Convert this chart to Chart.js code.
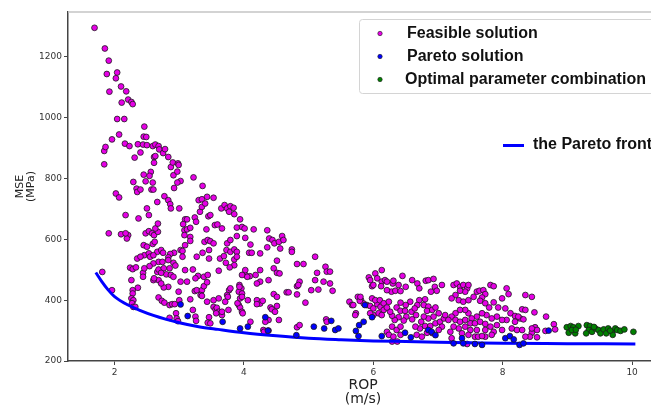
<!DOCTYPE html>
<html>
<head>
<meta charset="utf-8">
<script src="https://cdn.jsdelivr.net/npm/chart.js@4/dist/chart.umd.min.js"></script>
<style>
html, body { margin: 0; padding: 0; background: #fff; overflow: hidden; }
#wrap { width: 680px; height: 407px; }
</style>
</head>
<body>
<div id="wrap"><canvas id="chart" width="680" height="407"></canvas></div>
<script>
'use strict'

// values: [ROP (m/s), MSE (MPa)]
const feasible = [
    // upper tail
    [1.69,1296],[1.85,1228],[1.91,1188],[1.88,1144],[2.04,1149],[2.02,1130],[1.92,1086],[2.10,1103],[2.18,1087],[2.11,1050],
    [2.21,1060],[2.26,1052],[2.28,1045],[2.04,996],[2.15,996],[2.46,971],[2.07,945],[1.96,929],[2.45,938],[2.49,937],
    [1.84,891],[1.86,904],[1.84,847],[2.16,915],[2.23,907],[2.36,913],[2.31,869],[2.40,886],[2.44,912],[2.50,910],
    [2.59,907],[2.63,912],[2.68,907],[2.61,871],[2.63,874],[2.61,852],[2.69,896],[2.75,884],[2.78,897],[2.83,871],
    [2.87,838],[2.90,853],[2.98,850],[2.99,845],[2.91,811],[2.97,823],[3.02,792],[2.97,787],[2.92,769],[3.22,804],
    [3.36,776],[2.45,813],[2.56,822],[2.54,809],[2.48,791],[2.59,787],[2.29,789],[2.34,767],[2.35,756],[2.40,764],
    [2.57,764],[2.60,764],[2.02,751],[2.07,738],[3.30,729],[3.35,732],[3.43,740],[3.53,737],
    // left cloud
    [2.50,702],[2.66,723],[2.77,742],[2.83,729],[2.86,716],[2.87,702],[3.00,702],[3.09,666],[3.12,666],[3.24,672],
    [3.06,650],[3.08,630],[3.12,633],[3.17,638],[3.08,614],[3.17,608],[3.26,658],[3.32,691],[3.35,707],[3.40,718],
    [3.45,676],[3.48,680],[3.42,633],[3.39,592],[3.44,598],[3.48,594],[3.53,587],[3.55,647],[3.59,649],[3.65,702],
    [3.70,713],[3.74,702],[3.79,709],[3.84,704],[3.77,691],[3.85,683],[3.66,636],[3.74,587],[3.79,598],[3.73,565],
    [3.79,559],[3.85,567],[3.85,534],[3.85,515],[3.63,537],[3.69,545],[3.72,523],[3.78,508],[3.61,497],[3.27,543],
    [3.46,565],[3.36,556],[3.46,537],[3.09,581],[3.17,595],[3.02,565],[3.05,562],[3.05,543],[2.92,556],[2.86,552],
    [2.91,523],[2.83,541],[2.85,505],[2.80,485],[2.87,483],[2.91,477],[2.94,514],[3.09,499],[3.21,501],[3.29,480],
    [3.25,472],[3.38,477],[3.44,483],[3.12,461],[3.02,461],[2.83,444],[2.76,442],[2.68,466],[2.72,455],[2.66,493],
    [2.68,501],[2.76,505],[2.72,490],[2.68,526],[2.74,526],[2.83,532],[2.66,559],[2.72,565],[2.75,556],[2.60,521],
    [2.54,512],[2.46,548],[2.53,554],[2.55,543],[2.60,548],[2.45,581],[2.50,576],[2.59,585],[2.62,592],[2.48,620],
    [2.53,627],[2.58,620],[2.61,614],[2.67,625],[2.63,636],[2.67,652],[2.53,680],[2.37,669],[2.17,680],[2.10,617],
    [2.21,614],[2.19,603],[2.17,620],[1.91,620],[1.81,493],[1.96,433],[2.24,507],[2.28,502],[2.33,508],[2.26,466],
    [2.35,537],[2.40,543],[2.44,490],[2.46,505],[2.44,477],[2.60,466],[2.61,472],[2.36,441],[2.28,433],[2.28,422],
    [2.26,406],[2.29,400],[2.27,390],[2.29,378],[2.32,378],[2.68,409],[2.73,398],[2.77,392],[2.85,384],[2.89,387],
    [2.93,387],[2.95,357],[2.96,340],[2.85,342],[2.98,331],[3.00,400],[2.99,428],[3.17,403],[3.24,430],[3.27,433],
    [3.25,346],[3.26,332],[3.21,368],[3.35,433],[3.38,446],[3.43,459],[3.43,395],[3.33,417],[3.35,414],[3.46,344],
    [3.44,326],[3.48,324],[3.53,378],[3.56,370],[3.58,375],[3.61,362],[3.57,357],[3.53,400],[3.66,351],[3.66,362],
    [3.61,406],[3.77,433],[3.79,439],[3.74,417],[3.75,411],[3.71,395],[3.76,368],
    // middle
    [3.94,666],[3.89,639],[3.97,641],[4.01,636],[4.15,633],[4.36,630],[3.89,611],[4.02,605],[4.10,583],[4.39,603],
    [4.44,598],[4.47,587],[4.54,592],[4.59,611],[4.61,598],[4.36,574],[4.56,570],[4.74,567],
    [3.89,559],[3.89,543],[4.08,556],[4.12,556],[4.25,554],[4.74,559],[5.10,543],[4.82,519],[4.92,519],[5.26,510],
    [5.28,494],[5.33,494],[5.13,490],[5.10,466],[5.23,461],[5.33,455],[5.37,431],[5.15,435],[5.04,433],[4.82,446],
    [4.86,461],[4.84,450],[4.95,392],[4.82,419],[4.66,426],[4.69,426],[4.51,530],[4.46,505],[4.51,490],[4.55,488],
    [4.38,466],[4.25,499],[4.18,483],[4.25,461],[4.20,455],[4.09,479],[4.01,486],[4.05,477],[4.02,499],[3.97,483],
    [3.93,450],[3.96,439],[3.92,428],[3.97,422],[4.06,400],[3.92,384],[3.94,376],[3.97,362],[4.20,400],[4.25,389],
    [4.20,387],[4.29,398],[4.41,376],[4.43,370],[4.48,362],[4.51,381],[4.54,335],[4.38,335],[4.33,329],[4.10,329],
    [4.30,302],[4.38,300],[4.82,311],[4.86,318],[5.27,337],[5.28,329],[3.90,390],[3.98,357],[3.94,406],[3.97,411],
    [3.93,444],[4.46,420],[4.51,411],[4.31,296],
    // right cloud
    [5.63,395],[5.67,384],[5.73,357],[5.76,411],[5.81,400],[5.85,389],[5.69,384],[5.72,351],[5.79,398],[5.80,411],
    [5.93,475],[5.95,466],[6.03,488],[6.06,472],[6.13,461],[6.18,466],[6.12,446],[5.98,446],[6.00,450],[5.90,384],
    [5.95,381],[6.00,373],[6.06,387],[6.11,378],[6.16,368],[6.08,357],[6.13,351],[6.00,351],[5.95,357],[5.98,406],
    [6.03,400],[6.10,400],[6.16,390],[6.13,499],
    [6.45,480],[6.60,466],[6.68,455],[6.71,439],[6.81,464],[6.85,466],[6.93,470],[6.95,444],[7.06,450],[6.98,431],
    [6.89,428],[6.80,403],[6.71,400],[6.68,384],[6.57,395],[6.50,384],[6.42,392],[6.36,376],[6.42,365],[6.49,365],
    [6.59,362],[6.64,373],[6.66,351],[6.60,337],[6.51,346],[6.47,333],[6.39,344],[6.33,335],[6.29,349],[6.26,362],
    [6.21,376],[6.24,395],[6.28,428],[6.21,433],[6.34,431],[6.42,430],[6.50,444],[6.39,450],[6.30,455],[6.21,461],
    [6.31,464],[6.78,384],[6.85,379],[6.83,365],[6.91,368],[6.96,376],[7.01,357],[6.93,346],[6.85,340],[6.78,346],
    [6.74,329],[6.80,315],[6.88,315],[6.96,324],[7.03,329],[7.09,340],[7.11,351],[7.06,313],[7.01,302],[6.91,292],
    [6.83,293],[6.72,307],
    [7.24,450],[7.29,455],[7.34,444],[7.39,450],[7.45,439],[7.47,450],[7.42,428],[7.34,431],[7.27,417],[7.21,406],
    [7.32,400],[7.39,395],[7.47,400],[7.55,411],[7.60,428],[7.64,431],[7.70,433],[7.73,420],[7.81,450],[7.86,446],
    [7.68,409],[7.65,398],[7.73,390],[7.79,376],[7.86,393],[7.93,376],[7.99,406],[8.06,439],[8.09,420],[8.04,373],
    [8.12,357],[8.19,348],[8.27,340],[8.19,329],[8.06,335],[7.99,335],[7.91,346],[7.83,340],[7.75,351],[7.68,357],
    [7.60,346],[7.52,340],[7.47,357],[7.42,368],[7.34,368],[7.27,357],[7.21,346],[7.16,335],[7.27,335],[7.34,329],
    [7.42,335],[7.50,324],[7.57,324],[7.65,329],[7.73,322],[7.81,313],[7.91,318],[7.99,302],[7.86,296],[7.73,302],
    [7.60,302],[7.50,302],[7.42,313],[7.32,307],[7.24,313],[7.19,296],[7.37,291],[7.47,286],[7.57,280],[7.73,280],
    [7.83,286],[8.14,307],[8.22,302],[8.30,302],[8.30,370],[8.24,346],
    [6.29,264],[6.37,264],[7.21,275],[7.45,256],[7.62,280],[7.68,282],[6.21,296],[6.29,313],[6.36,302],[6.42,313],
    [6.24,286],[6.31,280],[6.42,286],[6.65,313],[6.67,286],[6.75,280],
    [8.35,417],[8.45,411],[8.35,368],[8.49,360],[8.32,337],[8.67,346],[8.79,321],[8.81,304],[8.50,311],[8.53,302],
    [8.45,293],[8.42,280],[8.53,278],[8.35,280],[8.45,307],[8.66,299]
]

const pareto = [
    [3.02,386],[3.13,348],[3.67,329],[3.94,307],[4.06,313],[4.33,344],[4.37,300],[4.81,285],[5.08,313],[5.24,307],
    [5.35,332],[5.41,302],[5.46,307],[5.73,299],[5.77,282],[5.78,318],[5.85,329],[5.87,384],[5.98,344],[6.13,282],
    [6.49,293],[6.58,278],[6.85,302],[6.90,296],[6.96,285],[7.24,258],[7.37,275],[7.39,258],[7.57,256],[7.68,253],
    [8.04,275],[8.11,282],[8.17,271],[8.26,253],[8.32,258],[8.71,300]
]

const optimal = [
    [8.99,311],[9.05,315],[9.09,311],[9.17,315],[9.02,293],[9.12,291],[9.07,302],[9.30,318],[9.35,315],[9.33,302],
    [9.29,291],[9.38,296],[9.43,307],[9.48,302],[9.51,291],[9.56,304],[9.60,291],[9.63,307],[9.69,296],[9.70,286],
    [9.74,307],[9.77,302],[9.82,299],[9.88,304],[10.02,296],[9.13,303],[9.41,312],[9.66,300]
]

const frontRop = [1.71, 1.8, 1.9, 2.0, 2.2, 2.4, 2.6, 2.8, 3.0, 3.3, 3.6, 4.0, 4.5, 5.0, 5.5, 6.0, 6.5, 7.0, 7.5, 8.0, 9.0, 10.05]
const frontMse = [491, 462, 434, 412, 385, 366, 350, 337, 326, 313, 304, 293, 283, 275, 270, 266, 264, 262, 260, 258, 257, 256]

const xTicks = [2, 4, 6, 8, 10]
const yTicks = [200, 400, 600, 800, 1000, 1200]

const toPoints = list => list.map(([x, y]) => ({ x, y }))

const magenta = '#e600e6'
const blue = '#0000ff'
const green = '#008000'
const edge = '#1a1a1a'

// legend + top spine, drawn by hand like the figure
const decor = {
    id: 'decor',
    afterDraw(chart) {
        const { ctx, chartArea } = chart

        ctx.save()
        ctx.strokeStyle = '#c4c4c4'
        ctx.lineWidth = 1.5
        ctx.beginPath()
        ctx.moveTo(chartArea.left, chartArea.top)
        ctx.lineTo(chartArea.right, chartArea.top)
        ctx.stroke()

        // legend box
        ctx.fillStyle = 'rgba(255,255,255,0.9)'
        ctx.strokeStyle = '#d4d4d4'
        ctx.lineWidth = 1
        ctx.beginPath()
        ctx.roundRect(359.5, 19.5, 330, 74, 3)
        ctx.fill()
        ctx.stroke()

        const rows = [2, 1, 0]
        ctx.font = 'bold 16px "Liberation Sans"'
        ctx.textBaseline = 'middle'
        rows.forEach((idx, i) => {
            const ds = chart.data.datasets[idx]
            const y = 33.5 + i * 23
            ctx.beginPath()
            ctx.arc(380, y, 2.2, 0, Math.PI * 2)
            ctx.fillStyle = ds.backgroundColor
            ctx.fill()
            ctx.lineWidth = 0.6
            ctx.strokeStyle = edge
            ctx.stroke()
            ctx.fillStyle = '#111'
            ctx.fillText(ds.label, i == 2 ? 405 : 407, y)
        })

        // pareto front entry
        const line = chart.data.datasets[3]
        ctx.strokeStyle = line.borderColor
        ctx.lineWidth = 3
        ctx.beginPath()
        ctx.moveTo(503, 145.5)
        ctx.lineTo(524, 145.5)
        ctx.stroke()
        ctx.fillStyle = '#111'
        ctx.fillText(line.label, 533, 145)
        ctx.restore()
    }
}

const axisColor = '#444'
const tickFont = { family: 'DejaVu Sans', size: 9 }

const config = {
    type: 'scatter',
    data: {
        datasets: [
            {
                label: 'Optimal parameter combination',
                data: toPoints(optimal),
                backgroundColor: green,
                borderColor: edge,
                borderWidth: 0.8,
                pointRadius: 2.9,
                order: 1
            },
            {
                label: 'Pareto solution',
                data: toPoints(pareto),
                backgroundColor: blue,
                borderColor: edge,
                borderWidth: 0.8,
                pointRadius: 2.9,
                order: 2
            },
            {
                label: 'Feasible solution',
                data: toPoints(feasible),
                backgroundColor: magenta,
                borderColor: edge,
                borderWidth: 0.8,
                pointRadius: 2.9,
                order: 4
            },
            {
                type: 'line',
                label: 'the Pareto front',
                data: frontRop.map((x, i) => ({ x, y: frontMse[i] })),
                borderColor: blue,
                backgroundColor: blue,
                borderWidth: 3,
                pointRadius: 0,
                fill: false,
                cubicInterpolationMode: 'monotone',
                order: 3
            }
        ]
    },
    options: {
        responsive: false,
        animation: false,
        layout: { padding: { left: 0, right: 22, top: 12, bottom: 0 } },
        plugins: {
            legend: { display: false },
            tooltip: { enabled: false }
        },
        scales: {
            x: {
                type: 'linear',
                min: 1.28,
                max: 10.4,
                afterFit: s => { s.height = 46 },
                afterBuildTicks: s => { s.ticks = xTicks.map(v => ({ value: v })) },
                border: { color: axisColor, width: 1.5 },
                grid: { drawOnChartArea: false, drawTicks: true, tickLength: 4, color: axisColor },
                ticks: { color: '#333', font: tickFont, padding: 2, maxRotation: 0, callback: v => String(v) },
                title: {
                    display: true,
                    text: ['ROP', '(m/s)'],
                    color: '#222',
                    font: { family: 'DejaVu Sans', size: 14, lineHeight: 1.05 },
                    padding: { top: 0, bottom: 0 }
                }
            },
            y: {
                type: 'linear',
                min: 200,
                max: 1348,
                afterFit: s => { s.width = 68 },
                afterBuildTicks: s => { s.ticks = yTicks.map(v => ({ value: v })) },
                border: { color: axisColor, width: 1.5 },
                grid: { drawOnChartArea: false, drawTicks: true, tickLength: 4, color: axisColor },
                ticks: { color: '#333', font: tickFont, padding: 2, callback: v => String(v) },
                title: {
                    display: true,
                    text: ['MSE', '(MPa)'],
                    color: '#222',
                    font: { family: 'DejaVu Sans', size: 11, lineHeight: 0.95 },
                    padding: { top: 15, bottom: 0 }
                }
            }
        }
    },
    plugins: [decor]
}

const ctx = document.querySelector('#chart').getContext('2d')
const chart = new Chart(ctx, config)
</script>
</body>
</html>
